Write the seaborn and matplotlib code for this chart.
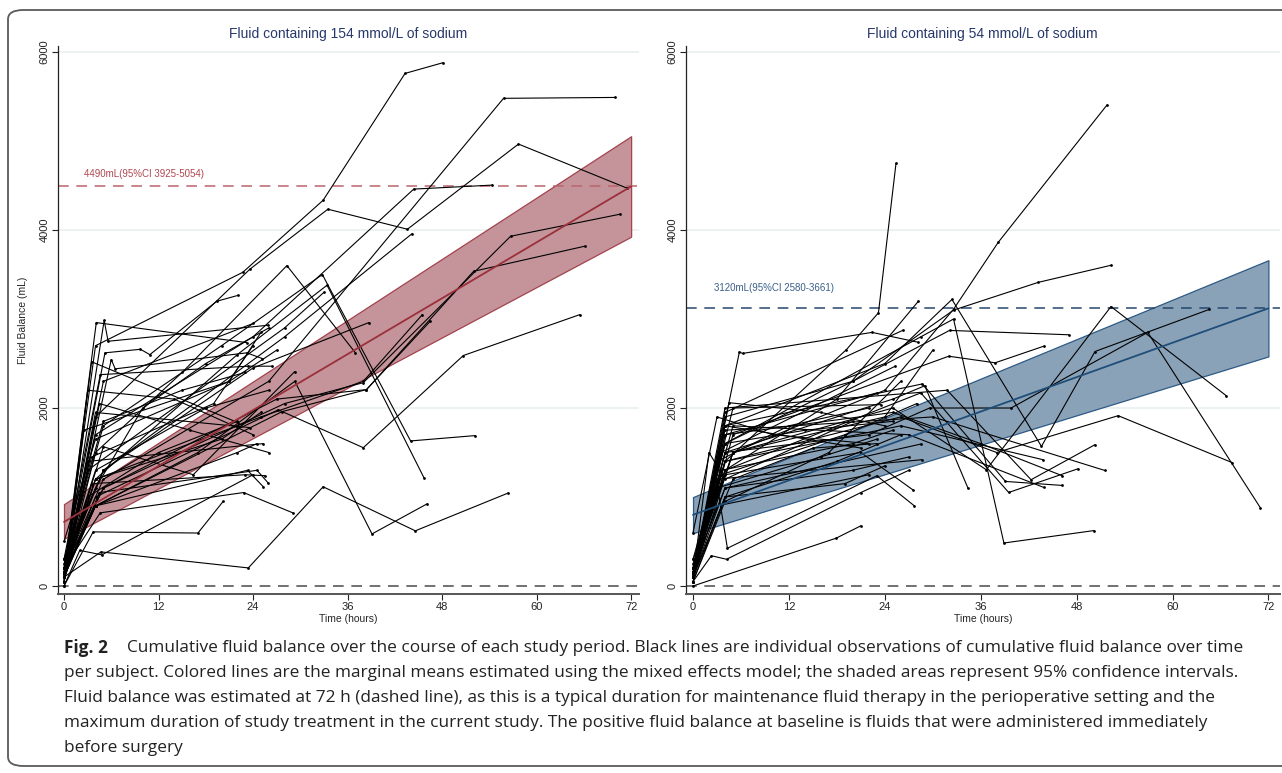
import numpy as np
import pandas as pd
import matplotlib
matplotlib.use("Agg")
import matplotlib.pyplot as plt
import seaborn as sns
from matplotlib.patches import FancyBboxPatch

# ---- individual subjects, 154 mmol/L arm (hours, mL) ----
iso_times = [
    [0, 4, 22.7, 32.9, 43.3, 48.1],
    [0, 4, 23.6, 33.5, 43.6, 57.7, 71.5],
    [0, 5, 26, 55.8, 70],
    [0, 4, 24, 44.4, 54.4],
    [0, 5, 28, 44.2],
    [0, 4, 27.7, 38.4, 52, 66.1],
    [0, 5, 28, 38, 56.7, 70.6],
    [0, 4, 15, 28.3, 37],
    [0, 5, 20, 32.8, 44, 52.2],
    [0, 4.7, 23.4, 32.9, 44.6, 56.4],
    [0, 4, 17, 29.3, 39.1, 46.1],
    [0, 4, 22, 33.4, 45.7],
    [0, 4, 27.2, 38, 50.7, 65.5],
    [0, 5, 24, 38.7],
    [0, 4.1, 23.2],
    [0, 5.1, 5.6, 25.9],
    [0, 5.2, 9.7, 10.9, 19.4, 22.1],
    [0, 6, 6.5, 23.2, 25.2],
    [0, 3.5, 22.1],
    [0, 4.6, 23.4, 26.4],
    [0, 4, 23.6],
    [0, 3, 25.3],
    [0, 4.5, 24.5, 25.9],
    [0, 4, 23.3, 25.3],
    [0, 3.7, 17, 20.2],
    [0, 4.6, 22.8, 29.1],
    [0, 5, 16.4, 29.3],
    [0, 4, 25, 38, 45.5],
    [0, 5, 27, 38.4, 46.5],
    [0, 3, 14, 24],
    [0, 4, 18, 26],
    [0, 2.5, 21, 27],
    [0, 3.5, 19, 24],
    [0, 5, 15, 23],
    [0, 4, 20, 25],
    [0, 3, 12, 22],
    [0, 4.5, 16, 26],
    [0, 3.5, 23, 25.5],
    [0, 4, 22, 24.5],
    [0, 4, 21, 25],
    [0, 3, 28, 33],
    [0, 4, 10, 18, 26],
    [0, 5, 24],
    [0, 2, 4.8, 24],
]
iso_vals = [
    [100, 2700, 3525, 4335, 5760, 5880],
    [150, 1900, 3560, 4234, 4009, 4966, 4470],
    [200, 1200, 2300, 5480, 5490],
    [150, 1700, 2800, 4460, 4505],
    [300, 1300, 2800, 3960],
    [100, 900, 1960, 2207, 3536, 3818],
    [200, 1100, 2050, 2285, 3930, 4178],
    [100, 1500, 2400, 3600, 2620],
    [250, 1800, 2700, 3500, 1630, 1690],
    [100, 383, 203, 1115, 620, 1045],
    [150, 900, 1500, 2300, 585, 923],
    [200, 1200, 2600, 3380, 1216],
    [100, 1000, 1980, 1554, 2590, 3050],
    [200, 1300, 2450, 2960],
    [150, 2960, 2735],
    [100, 2985, 2750, 2930],
    [200, 2620, 2660, 2600, 3200, 3266],
    [100, 2545, 2440, 2620, 2555],
    [50, 2520, 1835],
    [300, 2375, 2470, 2470],
    [100, 1950, 1780],
    [200, 1400, 1600],
    [100, 1050, 1300, 1160],
    [150, 900, 1300, 1115],
    [0, 608, 595, 950],
    [200, 822, 1050, 820],
    [150, 1565, 1250, 2410],
    [100, 1200, 1900, 2300, 3050],
    [200, 1100, 2100, 2207, 2975],
    [100, 2200, 2100, 1700],
    [200, 1300, 2000, 2200],
    [50, 1750, 2300, 2650],
    [150, 1450, 2050, 2700],
    [300, 1850, 2200, 2400],
    [100, 1200, 1650, 1950],
    [150, 1000, 1500, 1850],
    [100, 2050, 1750, 1500],
    [50, 1150, 1250, 1240],
    [100, 900, 1500, 1600],
    [500, 1650, 2300, 2850],
    [50, 1300, 2900, 3300],
    [200, 1100, 2000, 2500, 2900],
    [150, 2300, 2950],
    [0, 400, 350, 1250],
]

# ---- individual subjects, 54 mmol/L arm ----
low_times = [
    [0, 4, 19.2, 23.2, 25.4],
    [0, 5, 24, 32.6, 38.2, 51.8],
    [0, 4, 20, 32.6, 43.2, 52.3],
    [0, 5.8, 6.2, 22.4, 28.1],
    [0, 17.9, 21],
    [0, 2.3, 4.2, 21, 27],
    [0, 3, 4.3, 23, 27.7],
    [0, 4, 28.5, 32.6, 38.9, 50.2],
    [0, 4, 18, 28.2],
    [0, 4, 24, 32.4, 43.6, 50.3, 64.6],
    [0, 5, 25, 36.7, 52.3, 66.7],
    [0, 4, 22, 29.6, 39.8, 56.9, 71],
    [0, 4, 26, 38, 53.2, 67.5],
    [0, 4, 28.7, 39.1, 46.2],
    [0, 4, 28.5, 39.5, 48.2],
    [0, 4, 31.8, 42.3, 50.3],
    [0, 5, 32, 37.8, 43.9],
    [0, 4, 20, 32.1, 47],
    [0, 4, 28.5],
    [0, 3, 28.6],
    [0, 4, 25, 29, 34.4],
    [0, 4, 25, 36, 46.2],
    [0, 4, 26, 43.8],
    [0, 5, 27, 43.9],
    [0, 4, 30, 51.5],
    [0, 4, 26.3],
    [0, 3.5, 25.3],
    [0, 4, 23],
    [0, 5, 23.5],
    [0, 4.5, 16, 24],
    [0, 3, 12, 22],
    [0, 4, 18, 26],
    [0, 3.5, 20, 25],
    [0, 4, 20, 27],
    [0, 5, 15, 23],
    [0, 3, 22],
    [0, 4, 19, 24],
    [0, 2, 4, 20],
    [0, 4, 14, 25],
    [0, 3, 10, 22],
    [0, 4, 21],
    [0, 3.5, 19, 28],
    [0, 4, 17, 26],
    [0, 5, 24, 30],
    [0, 4, 21, 27.5],
    [0, 3, 16, 23],
]
low_vals = [
    [200, 1400, 2657, 3070, 4750],
    [100, 1500, 2200, 3110, 3863, 5405],
    [150, 1600, 2300, 3100, 3412, 3604],
    [100, 2630, 2613, 2850, 2740],
    [0, 537, 676],
    [50, 340, 300, 1050, 1300],
    [100, 1150, 424, 1239, 900],
    [150, 1600, 2800, 3000, 483, 623],
    [150, 1300, 2100, 3200],
    [100, 1800, 2500, 3220, 1569, 2635, 3108],
    [200, 1500, 2000, 1306, 3140, 2140],
    [100, 1500, 1700, 2000, 2000, 2850, 878],
    [150, 1400, 1900, 1500, 1914, 1385],
    [100, 1800, 2271, 1175, 1130],
    [200, 1300, 2170, 1051, 1318],
    [150, 2000, 2200, 1194, 1588],
    [100, 1700, 2582, 2508, 2695],
    [150, 1900, 2300, 2872, 2823],
    [100, 1100, 1595],
    [50, 1200, 1419],
    [150, 1500, 2100, 2250, 1100],
    [150, 1700, 1950, 1600, 1239],
    [100, 1400, 1800, 1419],
    [200, 1800, 1700, 1107],
    [150, 1750, 1900, 1299],
    [100, 1950, 2875],
    [150, 1500, 2470],
    [100, 1700, 2170],
    [200, 2000, 2038],
    [100, 2060, 1950, 1800],
    [150, 1400, 1800, 2000],
    [50, 1000, 1400, 1700],
    [100, 1300, 1600, 1750],
    [200, 1100, 1300, 1450],
    [100, 1200, 1550, 1600],
    [150, 900, 1250],
    [100, 1000, 1150, 1350],
    [100, 1500, 1200, 1850],
    [300, 1600, 1750, 1850],
    [600, 1900, 1700, 1600],
    [200, 1800, 1550],
    [100, 1250, 1700, 2050],
    [50, 950, 1500, 2300],
    [200, 1500, 1900, 2650],
    [300, 1250, 1500, 1081],
    [250, 1100, 1450, 1650],
]

# ---- model: marginal mean and 95% CI ----
model_hours = [0, 72]
iso_mean = [720, 4490]
iso_lo = [530, 3925]
iso_hi = [920, 5054]
low_mean = [800, 3120]
low_lo = [593, 2580]
low_hi = [999, 3661]

titles = ["Fluid containing 154 mmol/L of sodium", "Fluid containing 54 mmol/L of sodium"]
est_labels = ["4490mL(95%CI 3925-5054)", "3120mL(95%CI 2580-3661)"]
x_ticks = [0, 12, 24, 36, 48, 60, 72]
y_ticks = [0, 2000, 4000, 6000]

caption_first = "Cumulative fluid balance over the course of each study period. Black lines are individual observations of cumulative fluid balance over time"
caption_lines = [
    "per subject. Colored lines are the marginal means estimated using the mixed effects model; the shaded areas represent 95% confidence intervals.",
    "Fluid balance was estimated at 72 h (dashed line), as this is a typical duration for maintenance fluid therapy in the perioperative setting and the",
    "maximum duration of study treatment in the current study. The positive fluid balance at baseline is fluids that were administered immediately",
    "before surgery",
]


def long_form(times, vals):
    rows = []
    for i, (ts, vs) in enumerate(zip(times, vals)):
        for t, v in zip(ts, vs):
            rows.append((i, t, v))
    return pd.DataFrame(rows, columns=["subject", "hours", "balance"])


sns.set_theme(style="white")
plt.rcParams["font.family"] = ["Liberation Sans", "DejaVu Sans"]

W, H = 1282, 773
fig = plt.figure(figsize=(W / 100, H / 100), dpi=100)

# rounded frame around the whole figure
frame = FancyBboxPatch((8 / W, 7 / H), 1.2, 1 - 17 / H,
                       boxstyle="round,pad=0,rounding_size=0.012",
                       transform=fig.transFigure, fill=False,
                       edgecolor="#5a5a5a", lw=1.3, clip_on=False)
fig.patches.append(frame)

ax1 = fig.add_axes([57.7 / W, 1 - 594 / H, (639 - 57.7) / W, (594 - 46) / H])
ax2 = fig.add_axes([686 / W, 1 - 594 / H, (1279.6 - 686) / W, (594 - 46) / H])

panels = [
    (ax1, iso_times, iso_vals, iso_mean, iso_lo, iso_hi, "#c4949a", "#a3434d", "#9b2f3a", "#b9656c", "#b0474f", -0.8, 73.0),
    (ax2, low_times, low_vals, low_mean, low_lo, low_hi, "#8aa2b8", "#2e5a86", "#1f4e79", "#24466e", "#3b5f8a", -0.88, 73.4),
]

for k, (ax, tt, vv, mean, lo, hi, fillc, edgec, meanc, dashc, txtc, x0, x1) in enumerate(panels):
    for g in [2000, 4000, 6000]:
        ax.axhline(g, color="#e9f0f0", lw=1.2, zorder=0)
    ax.fill_between(model_hours, lo, hi, facecolor=fillc, edgecolor=edgec, lw=0.9, zorder=1)
    df = long_form(tt, vv)
    sns.lineplot(data=df, x="hours", y="balance", units="subject", estimator=None,
                 color="black", lw=0.8, marker="o", markersize=2.0, markeredgewidth=0,
                 sort=False, ax=ax, zorder=2)
    sns.lineplot(x=model_hours, y=mean, color=meanc, lw=1.3, ax=ax, zorder=3)
    ax.axhline(0, color="#4a4a4a", lw=1.1, ls=(0, (7, 5)), zorder=1.5)
    ax.axhline(mean[-1], color=dashc, lw=1.1, ls=(0, (7, 5)), zorder=1.5)
    ax.text(2.6, mean[-1] + (138 if k == 0 else 225), est_labels[k],
            color=txtc, fontsize=7, va="center", ha="left")

    ax.set_xlim(x0, x1)
    ax.set_ylim(-90, 6068)
    ax.set_xticks(x_ticks)
    ax.set_yticks(y_ticks)
    ax.set_title(titles[k], color="#27386a", fontsize=10, pad=6)
    ax.set_xlabel("Time (hours)", fontsize=7.5, labelpad=1)
    ax.set_ylabel("Fluid Balance (mL)" if k == 0 else "", fontsize=7.5, labelpad=8)
    for s in ["top", "right"]:
        ax.spines[s].set_visible(False)
    ax.spines["left"].set_color("#222222")
    ax.spines["bottom"].set_color("#555555")
    ax.spines["left"].set_linewidth(0.9)
    ax.spines["bottom"].set_linewidth(1.4)
    ax.tick_params(axis="both", which="both", direction="out", length=4, width=0.8,
                   labelsize=8, colors="#222222", pad=2, bottom=True, left=True)
    for lab in ax.get_yticklabels():
        lab.set_rotation(90)
        lab.set_va("center")
    ax.grid(False)
    if ax.get_legend() is not None:
        ax.get_legend().remove()

cap_font = ["Open Sans", "DejaVu Sans"]
cap_size = 12.4
fig.text(64 / W, 1 - 648 / H, "Fig. 2", fontsize=cap_size, fontweight="bold", family=cap_font,
         va="center", ha="left", color="#222222")
fig.text(127 / W, 1 - 648 / H, caption_first, fontsize=cap_size, family=cap_font,
         va="center", ha="left", color="#222222")
for i, line in enumerate(caption_lines):
    fig.text(64 / W, 1 - (673 + 25 * i) / H, line, fontsize=cap_size, family=cap_font,
             va="center", ha="left", color="#222222")

fig.savefig("out.png", dpi=100)
